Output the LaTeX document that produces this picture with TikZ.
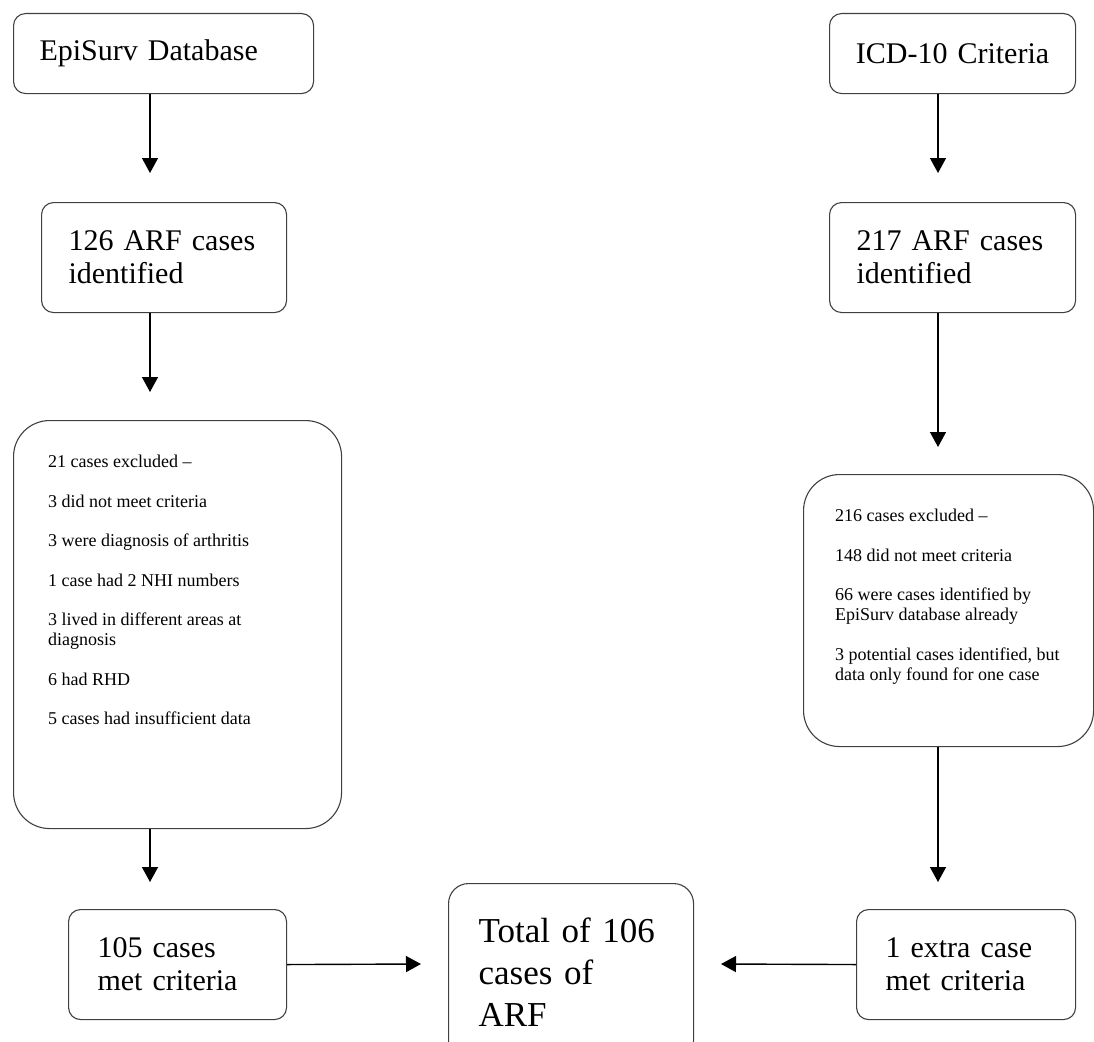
\documentclass[tikz,border=0pt]{standalone}
\usepackage{fontspec}
\setmainfont{Liberation Serif}
\usetikzlibrary{positioning,arrows.meta}

\begin{document}
\begin{tikzpicture}[x=1pt, y=-1pt,
    box/.style={draw=black!75, line width=1.1pt, rounded corners=12pt, anchor=north west,
      align=left, inner ysep=0pt, font=\fontsize{30}{33}\selectfont},
    bigbox/.style={draw=black!75, line width=1.1pt, rounded corners=36pt, anchor=north west},
    small/.style={anchor=north west, align=left, inner sep=0pt, font=\fontsize{18}{20}\selectfont},
    arr/.style={-{Triangle[length=15pt,width=16pt]}, line width=1.4pt}
  ]
  \useasboundingbox (0,0) rectangle (1094,1041);

  % left column
  \node[box, minimum width=300pt, minimum height=80pt, inner xsep=26pt, text width=248pt] (epi) at (13,13) {EpiSurv Database};
  \node[box, minimum width=245pt, minimum height=110pt, inner xsep=27pt, text width=191pt] (idL) at (41,202) {126 ARF cases\\identified};
  \node[bigbox, minimum width=328pt, minimum height=408pt] (exclL) at (13,420) {};
  \node[small, below right=35pt and 35pt of exclL.north west] (exclL-txt) {%
    21 cases excluded --\\[19.5pt]
    3 did not meet criteria\\[19.5pt]
    3 were diagnosis of arthritis\\[19.5pt]
    1 case had 2 NHI numbers\\[19.5pt]
    3 lived in different areas at\\diagnosis\\[19.5pt]
    6 had RHD\\[19.5pt]
    5 cases had insufficient data};
  \node[box, minimum width=218pt, minimum height=110pt, inner xsep=29pt, text width=160pt] (metL) at (68,909) {105 cases\\met criteria};

  % right column
  \node[box, align=center, minimum width=246pt, minimum height=80pt, inner xsep=10pt, text width=226pt] (icd) at (829,13) {ICD-10 Criteria};
  \node[box, minimum width=246pt, minimum height=110pt, inner xsep=27pt, text width=192pt] (idR) at (829,202) {217 ARF cases\\identified};
  \node[bigbox, minimum width=290pt, minimum height=272pt] (exclR) at (803,474) {};
  \node[small, below right=35pt and 32pt of exclR.north west] (exclR-txt) {%
    216 cases excluded --\\[19.5pt]
    148 did not meet criteria\\[19.5pt]
    66 were cases identified by\\EpiSurv database already\\[19.5pt]
    3 potential cases identified, but\\data only found for one case};
  \node[box, minimum width=219pt, minimum height=110pt, inner xsep=29pt, text width=161pt] (metR) at (856,909) {1 extra case\\met criteria};

  % total
  \node[box, rounded corners=20pt, minimum width=245pt, minimum height=177pt, inner xsep=30pt, text width=185pt,
    font=\fontsize{35}{42}\selectfont] (total) at (448,883) {Total of 106\\cases of\\ARF};

  % arrow tips
  \coordinate (tL1) at (150,173);
  \coordinate (tL2) at (150,392);
  \coordinate (tL3) at (150,882);
  \coordinate (tR1) at (938,173);
  \coordinate (tR2) at (938,447);
  \coordinate (tR3) at (938,882);
  \coordinate (tM1) at (421,964);
  \coordinate (tM2) at (721,964);

  \draw[arr] (epi.south -| tL1) -- (tL1);
  \draw[arr] (idL.south -| tL2) -- (tL2);
  \draw[arr] (exclL.south -| tL3) -- (tL3);
  \draw[arr] (icd.south -| tR1) -- (tR1);
  \draw[arr] (idR.south -| tR2) -- (tR2);
  \draw[arr] (exclR.south -| tR3) -- (tR3);
  \draw[arr] (metL.east) -- (tM1);
  \draw[arr] (metR.west) -- (tM2);
\end{tikzpicture}
\end{document}
